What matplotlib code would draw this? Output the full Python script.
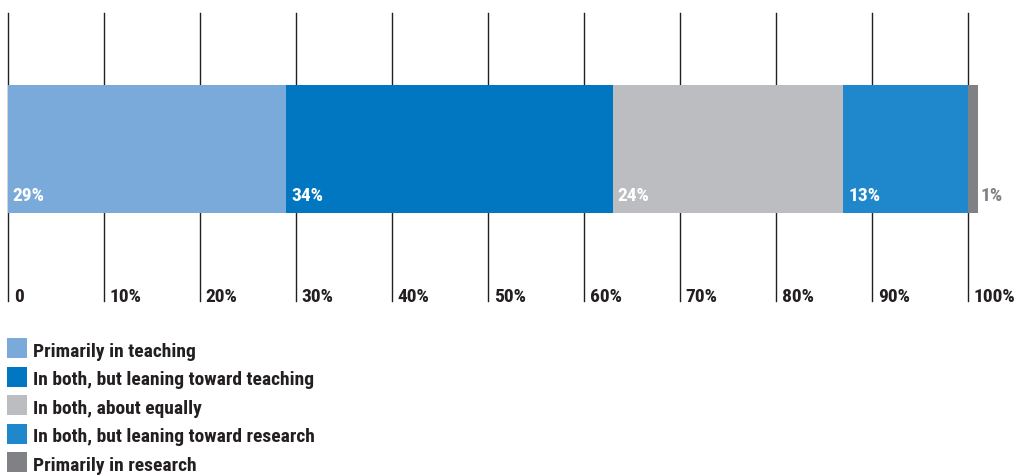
import matplotlib.pyplot as plt
from matplotlib.patches import Rectangle

categories = ['Primarily in teaching',
              'In both, but leaning toward teaching',
              'In both, about equally',
              'In both, but leaning toward research',
              'Primarily in research']
shares = [29, 34, 24, 13, 1]
colors = ['#7aaad9', '#0077c0', '#bcbdc0', '#1f88cc', '#808184']
ticks = [0, 10, 20, 30, 40, 50, 60, 70, 80, 90, 100]
tick_labels = ['0', '10%', '20%', '30%', '40%', '50%', '60%', '70%', '80%', '90%', '100%']

plt.rcParams['font.family'] = ['Roboto Condensed', 'DejaVu Sans']
plt.rcParams['font.weight'] = 'bold'
ink = '#231f20'
fs = 14

W, H = 1020, 477
fig = plt.figure(figsize=(W / 100, H / 100), dpi=100)
# axes spans 0..100% horizontally, grid lines top to bottom
ax = fig.add_axes([8 / W, (H - 302) / H, 960 / W, 288 / H])
ax.set_xlim(0, 100)
ax.set_ylim(0, 1)
ax.axis('off')

for t, lab in zip(ticks, tick_labels):
    ax.plot([t, t], [0, 1], color=ink, lw=1.0, zorder=1, clip_on=False)
    ax.text(t + 0.6, 0.0, lab, color=ink, fontsize=fs, va='baseline', ha='left')

left = 0
for v, c in zip(shares, colors):
    ax.barh(0.528, v, left=left, height=0.444, color=c, zorder=2, clip_on=False)
    if v >= 4:
        ax.text(left + 0.5, 0.368, '%d%%' % v, color='white', fontsize=fs,
                va='center', ha='left', zorder=3)
    else:
        # too narrow for a label inside, put it just past the end
        ax.text(left + v + 0.3, 0.368, '%d%%' % v, color=c, fontsize=fs,
                va='center', ha='left', zorder=3)
    left += v

# legend: colour squares with labels underneath the chart
for i, (lab, c) in enumerate(zip(categories, colors)):
    yb = 357 + 28.5 * i
    fig.add_artist(Rectangle((7 / W, (H - yb - 2) / H), 20 / W, 20 / H,
                             transform=fig.transFigure, color=c, lw=0))
    fig.text(33 / W, (H - yb) / H, lab, color=ink, fontsize=fs, va='baseline', ha='left')

fig.savefig('out.png', dpi=100)
